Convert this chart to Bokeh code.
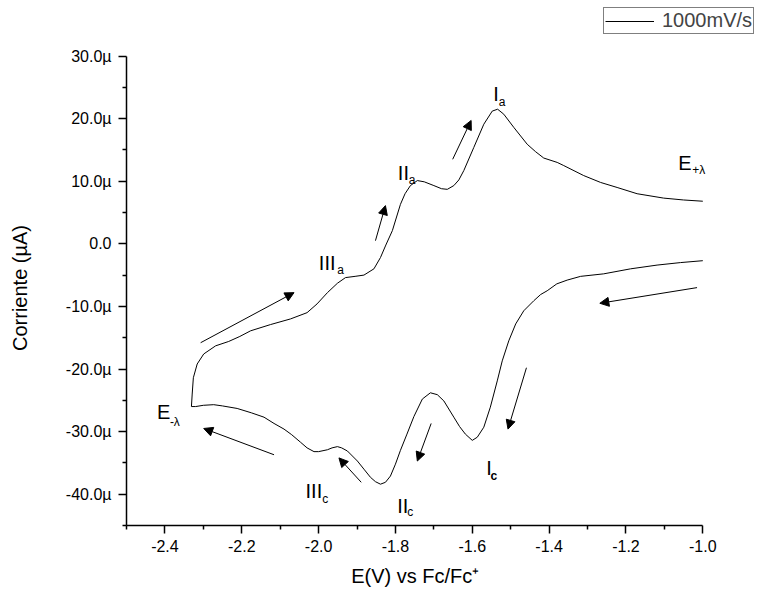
from bokeh.plotting import figure
from bokeh.models import (Range1d, FixedTicker, CustomJSTickFormatter, Legend, LegendItem,
                          Arrow, NormalHead, ColumnDataSource)
from bokeh.core.properties import value
from bokeh.embed import file_html
from bokeh.resources import INLINE

# ---------------- data ----------------
# cathodic (reverse) branch, from -1.0 V towards E-lambda
cath_E = [-1.000, -1.058, -1.119, -1.188, -1.258, -1.318, -1.353, -1.380, -1.405, -1.422,
          -1.440, -1.466, -1.487, -1.505, -1.522, -1.535, -1.553, -1.570, -1.587, -1.600,
          -1.618, -1.633, -1.648, -1.674, -1.691, -1.709, -1.730, -1.752, -1.770, -1.787,
          -1.800, -1.813, -1.826, -1.839, -1.852, -1.865, -1.882, -1.899, -1.925, -1.940,
          -1.951, -1.965, -1.977, -2.000, -2.012, -2.030, -2.047, -2.070, -2.090, -2.116,
          -2.142, -2.175, -2.212, -2.250, -2.273, -2.300, -2.320, -2.331]
cath_I = [-2.7, -3.0, -3.4, -4.0, -4.8, -5.2, -5.8, -6.4, -7.5, -8.1,
          -9.1, -10.7, -12.8, -15.5, -18.7, -21.9, -26.1, -29.3, -30.9, -31.4,
          -30.4, -29.2, -27.7, -25.1, -24.1, -23.8, -24.8, -27.6, -30.4, -33.0,
          -35.2, -37.1, -38.1, -38.4, -38.0, -37.3, -36.0, -34.7, -33.1, -32.6,
          -32.4, -32.6, -32.9, -33.2, -33.2, -32.6, -31.7, -30.5, -29.6, -28.7,
          -27.7, -27.0, -26.3, -25.9, -25.7, -25.8, -26.0, -26.0]
# anodic (forward) branch, from E-lambda back to -1.0 V
anod_E = [-2.329, -2.326, -2.316, -2.299, -2.268, -2.234, -2.205, -2.177, -2.125, -2.073,
          -2.030, -2.004, -1.977, -1.951, -1.930, -1.905, -1.882, -1.856, -1.839, -1.825,
          -1.808, -1.787, -1.775, -1.761, -1.743, -1.725, -1.700, -1.680, -1.665, -1.648,
          -1.635, -1.622, -1.596, -1.570, -1.548, -1.534, -1.518, -1.492, -1.457, -1.435,
          -1.414, -1.379, -1.362, -1.310, -1.266, -1.223, -1.171, -1.102, -1.050, -1.000]
anod_I = [-24.0, -21.4, -19.2, -17.6, -16.3, -15.6, -14.8, -13.9, -12.9, -12.0,
          -11.0, -9.6, -7.8, -6.3, -5.4, -5.2, -5.0, -4.0, -2.2, -0.2,
          2.1, 6.3, 8.0, 9.3, 10.1, 9.9, 9.3, 8.8, 8.7, 9.3,
          10.2, 11.7, 15.4, 19.1, 21.2, 21.5, 20.7, 18.6, 15.9, 14.7,
          13.7, 13.0, 12.5, 10.9, 9.8, 9.0, 8.0, 7.3, 7.0, 6.8]

series_label = "1000mV/s"

x_bounds = (-2.5, -1.0)
y_bounds = (-45, 30)
x_ticks = [-2.4, -2.2, -2.0, -1.8, -1.6, -1.4, -1.2, -1.0]
x_minor = [-2.5, -2.3, -2.1, -1.9, -1.7, -1.5, -1.3, -1.1]
y_ticks = [-40, -30, -20, -10, 0, 10, 20, 30]
y_minor = [-45, -35, -25, -15, -5, 5, 15, 25]

# peak labels (anchor = left/baseline of the main text, in data units)
lab_text = ["I", "II", "III", "E", "E", "III", "II", "I"]
lab_x = [-1.5455, -1.7938, -1.9994, -1.0642, -2.4204, -2.0340, -1.7953, -1.5637]
lab_y = [23.91, 11.29, -2.99, 12.83, -26.84, -39.46, -41.85, -35.83]
sub_text = ["a", "a", "a", "+\u03bb", "-\u03bb", "c", "c", "c"]
sub_x = [-1.5310, -1.7652, -1.9515, -1.0277, -2.3871, -1.9905, -1.7693, -1.5526]
sub_y = [22.68, 10.22, -4.15, 11.77, -28.43, -40.78, -42.92, -37.06]
sub_style = ["normal", "normal", "normal", "normal", "normal", "normal", "normal", "bold"]

# scan direction arrows (tail -> head, data units)
arr_x0 = [-2.307, -1.852, -1.651, -1.015, -1.459, -1.707, -1.889, -2.116]
arr_y0 = [-15.8, 0.5, 13.5, -7.0, -19.8, -28.7, -38.1, -33.7]
arr_x1 = [-2.064, -1.826, -1.603, -1.268, -1.507, -1.743, -1.947, -2.299]
arr_y1 = [-7.8, 6.1, 19.7, -9.5, -29.6, -34.7, -34.2, -29.5]

# ---------------- figure ----------------
FONT = "Liberation Sans"
W, H = 759, 596
LEFT, BOTTOM = 126, 71
PX_PER_V = (702.3 - LEFT) / (x_bounds[1] - x_bounds[0])
PX_PER_UA = (524.7 - 55.2) / (y_bounds[1] - y_bounds[0])
# the frame fills the whole area right of / above the axes; the axes are bounded
x_end = x_bounds[0] + (W - LEFT) / PX_PER_V
y_end = y_bounds[0] + (H - BOTTOM) / PX_PER_UA

p = figure(width=W, height=H, output_backend="svg", toolbar_location=None,
           x_range=Range1d(x_bounds[0], x_end), y_range=Range1d(y_bounds[0], y_end),
           min_border_left=LEFT, min_border_right=0, min_border_top=0, min_border_bottom=BOTTOM)
p.outline_line_color = None
p.grid.visible = False
p.background_fill_color = "white"
p.border_fill_color = "white"

E_all = cath_E + anod_E
I_all = cath_I + anod_I
r = p.line(E_all, I_all, line_color="black", line_width=1)

for ax in (p.xaxis[0], p.yaxis[0]):
    ax.axis_line_width = 1.5
    ax.major_tick_line_width = 1.5
    ax.minor_tick_line_width = 1.5
    ax.major_tick_in = 0
    ax.major_tick_out = 8
    ax.minor_tick_in = 0
    ax.minor_tick_out = 4
    ax.major_label_text_font = FONT
    ax.major_label_text_font_size = "16px"
    ax.major_label_text_color = "black"
    ax.axis_label_text_font = FONT
    ax.axis_label_text_font_size = "20px"
    ax.axis_label_text_font_style = "normal"
    ax.axis_label_text_color = "black"

p.xaxis.bounds = x_bounds
p.yaxis.bounds = y_bounds
p.xaxis.ticker = FixedTicker(ticks=x_ticks, minor_ticks=x_minor)
p.yaxis.ticker = FixedTicker(ticks=y_ticks, minor_ticks=y_minor)
p.xaxis.formatter = CustomJSTickFormatter(code="return tick.toFixed(1);")
p.yaxis.formatter = CustomJSTickFormatter(
    code="return Math.abs(tick) < 1e-9 ? '0.0' : tick.toFixed(1) + '\u00b5';")
# the frame is wider/taller than the axes, so pad the titles (non-breaking spaces)
# to keep them centred on the bounded axes
PAD_X = "\u00a0" * 10
PAD_Y = "\u00a0" * 9
p.xaxis.axis_label = "E(V) vs Fc/Fc\u207a" + PAD_X
p.yaxis.axis_label = "Corriente (\u00b5A)" + PAD_Y
p.xaxis.major_label_standoff = 6
p.yaxis.major_label_standoff = 7
p.xaxis.axis_label_standoff = 10
p.yaxis.axis_label_standoff = 32

# labels
p.text(x=lab_x, y=lab_y, text=lab_text, text_font=value(FONT), text_font_size="20px",
       text_align="left", text_baseline="alphabetic", text_color="black")
sub_src = ColumnDataSource(dict(x=sub_x, y=sub_y, text=sub_text, style=sub_style))
p.text(x="x", y="y", text="text", source=sub_src, text_font=value(FONT),
       text_font_size="12px", text_font_style="style",
       text_align="left", text_baseline="alphabetic", text_color="black")

# arrows
for x0, y0, x1, y1 in zip(arr_x0, arr_y0, arr_x1, arr_y1):
    p.add_layout(Arrow(x_start=x0, y_start=y0, x_end=x1, y_end=y1, line_width=1, line_color="black",
                       end=NormalHead(size=9, fill_color="black", line_color="black", line_width=1)))

# legend, box at top right (screen position from the frame's bottom-left)
legend = Legend(items=[LegendItem(label=series_label, renderers=[r])], location=(603 - LEFT, H - BOTTOM - 34),
                padding=1, margin=0, spacing=0, label_standoff=8, glyph_width=49, glyph_height=20,
                label_text_font=FONT, label_text_font_size="20px", label_height=20,
                border_line_color="black", border_line_width=1, background_fill_alpha=1)
p.add_layout(legend)

open("out.html", "w").write(file_html(p, INLINE))
